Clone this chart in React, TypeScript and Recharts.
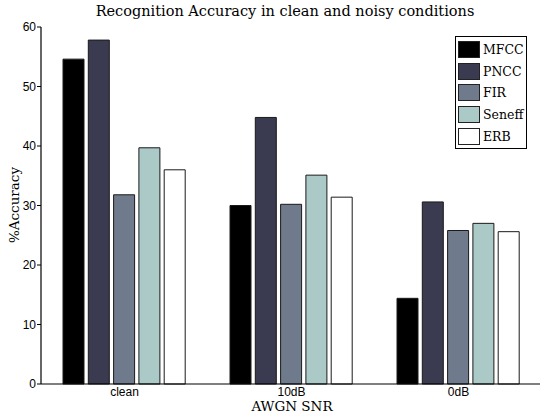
import React from "react";
import { BarChart, Bar, XAxis, YAxis, Legend } from "recharts";

const categories = ["clean", "10dB", "0dB"];
const seriesNames = ["MFCC", "PNCC", "FIR", "Seneff", "ERB"];
const mfcc = [54.6, 30.0, 14.4];
const pncc = [57.8, 44.8, 30.6];
const fir = [31.8, 30.2, 25.8];
const seneff = [39.7, 35.1, 27.0];
const erb = [36.0, 31.4, 25.6];
const yTicks = [0, 10, 20, 30, 40, 50, 60];
const colors = ["#000000", "#3a3a50", "#6f7b8c", "#abc9c7", "#ffffff"];

const seriesValues = [mfcc, pncc, fir, seneff, erb];
const data = categories.map((c, i) => {
  const row: Record<string, string | number> = { name: c };
  seriesNames.forEach((s, j) => {
    row[s] = seriesValues[j][i];
  });
  return row;
});

const serif = "'DejaVu Serif', serif";
const sans = "'Liberation Sans', Arial, sans-serif";

const LegendBox = () => (
  <div
    style={{
      border: "1px solid #000",
      background: "#fff",
      width: 72,
      padding: "2px 0 1px 2px",
      boxSizing: "border-box",
    }}
  >
    {seriesNames.map((s, i) => (
      <div key={s} style={{ display: "flex", alignItems: "center", height: 21.6 }}>
        <div
          style={{
            width: 22,
            height: 17,
            background: colors[i],
            border: "1px solid #222",
            boxSizing: "border-box",
            marginRight: 3,
          }}
        />
        <span style={{ fontFamily: serif, fontSize: 12.5, color: "#000" }}>{s}</span>
      </div>
    ))}
  </div>
);

export default function App() {
  return (
    <div
      style={{
        position: "absolute",
        left: 0,
        top: 0,
        width: 540,
        height: 419,
        overflow: "hidden",
        background: "#fff",
      }}
    >
      <div
        style={{
          position: "absolute",
          left: 0,
          top: 3,
          width: 570,
          textAlign: "center",
          fontFamily: serif,
          fontSize: 14.5,
          color: "#000",
        }}
      >
        Recognition Accuracy in clean and noisy conditions
      </div>
      <div
        style={{
          position: "absolute",
          left: 0,
          top: 398,
          width: 584,
          textAlign: "center",
          fontFamily: serif,
          fontSize: 13.5,
          color: "#000",
        }}
      >
        AWGN SNR
      </div>
      <div
        style={{
          position: "absolute",
          left: 14,
          top: 205,
          transform: "translate(-50%, -50%) rotate(-90deg)",
          fontFamily: serif,
          fontSize: 13.5,
          color: "#000",
          whiteSpace: "nowrap",
        }}
      >
        %Accuracy
      </div>
      <BarChart
        width={545}
        height={419}
        data={data}
        margin={{ top: 27, right: 3, left: 0, bottom: 5 }}
        barSize={21}
        barGap={4.3}
      >
        <XAxis
          dataKey="name"
          height={30}
          axisLine={{ stroke: "#000", strokeWidth: 1.2 }}
          tickLine={false}
          tickSize={0}
          tick={{ fill: "#000", fontFamily: sans, fontSize: 12 }}
          tickMargin={3}
        />
        <XAxis
          xAxisId="top"
          dataKey="name"
          orientation="top"
          height={0}
          mirror
          tick={false}
          tickSize={5}
          axisLine={{ stroke: "#000", strokeWidth: 1.2 }}
          tickLine={{ stroke: "#000" }}
        />
        <YAxis
          width={41}
          domain={[0, 60]}
          ticks={yTicks}
          interval={0}
          tickSize={4}
          axisLine={{ stroke: "#000", strokeWidth: 1.2 }}
          tickLine={{ stroke: "#000" }}
          tick={{ fill: "#000", fontFamily: sans, fontSize: 12 }}
          tickMargin={1}
        />
        <YAxis
          yAxisId="r"
          orientation="right"
          width={0}
          mirror
          domain={[0, 60]}
          ticks={yTicks}
          tick={false}
          tickSize={5}
          axisLine={{ stroke: "#000" }}
          tickLine={{ stroke: "#000" }}
        />
        <Legend
          layout="vertical"
          align="center"
          verticalAlign="middle"
          content={() => <LegendBox />}
          wrapperStyle={{ position: "absolute", left: 455, top: 36, width: 72 }}
        />
        {seriesNames.map((s, i) => (
          <Bar
            key={s}
            dataKey={s}
            fill={colors[i]}
            stroke="#1a1a1a"
            strokeWidth={1}
            isAnimationActive={false}
          />
        ))}
      </BarChart>
    </div>
  );
}
